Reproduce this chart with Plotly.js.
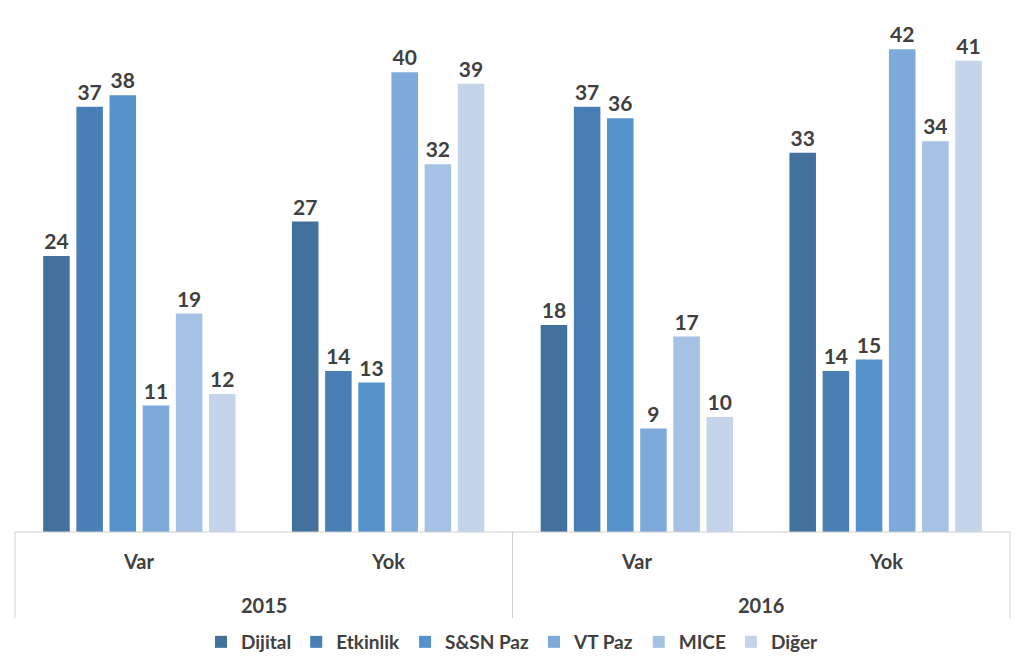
<!DOCTYPE html>
<html>
<head>
<meta charset="utf-8">
<script src="https://cdn.plot.ly/plotly-3.0.1.min.js"></script>
<style>html,body{margin:0;padding:0;background:#fff;}#chart{width:1024px;height:669px;}</style>
</head>
<body>
<div id="chart"></div>
<script>
const years = ["2015", "2015", "2016", "2016"];
const groups = ["Var", "Yok", "Var", "Yok"];
const yearLabels = ["2015", "2016"];
const seriesNames = ["Dijital", "Etkinlik", "S&SN Paz", "VT Paz", "MICE", "Diğer"];
const dijital = [24, 27, 18, 33];
const etkinlik = [37, 14, 37, 14];
const ssnPaz = [38, 13, 36, 15];
const vtPaz = [11, 40, 9, 42];
const mice = [19, 32, 17, 34];
const diger = [12, 39, 10, 41];
const colors = ["#41719c", "#4a7fb6", "#5693cd", "#7daadb", "#a5c1e4", "#c4d5eb"];
const values = [dijital, etkinlik, ssnPaz, vtPaz, mice, diger];

const font = "Lato, Open Sans, sans-serif";
const txtColor = "#404040";
const catKeys = years.map((y, i) => y + " " + groups[i]);

const traces = values.map((v, i) => ({
  type: "bar",
  name: seriesNames[i],
  x: catKeys,
  y: v,
  marker: {color: colors[i]},
  text: v.map(String),
  textposition: "outside",
  cliponaxis: false,
  textfont: {family: font, size: 21, color: txtColor, weight: "bold"},
  hoverinfo: "none"
}));

const H = 669, plotBottom = 532, plotTop = 17;
const toPaper = py => (plotBottom - py) / (plotBottom - plotTop);

const annotations = [];
groups.forEach((g, i) => annotations.push({
  xref: "paper", yref: "paper", x: (i + 0.5) / groups.length, y: toPaper(561),
  text: g, showarrow: false, xanchor: "center", yanchor: "middle",
  font: {family: font, size: 20, color: txtColor, weight: "bold"}
}));
yearLabels.forEach((yr, i) => annotations.push({
  xref: "paper", yref: "paper", x: (i + 0.5) / yearLabels.length, y: toPaper(605),
  text: yr, showarrow: false, xanchor: "center", yanchor: "middle",
  font: {family: font, size: 20, color: txtColor, weight: "bold"}
}));

const shapes = [];
[0, 0.5, 1].forEach(xp => shapes.push({
  type: "line", xref: "paper", yref: "paper", x0: xp, x1: xp, y0: 0, y1: toPaper(618),
  line: {color: "#d0d0d0", width: 1}
}));
shapes.push({
  type: "line", xref: "paper", yref: "paper", x0: 0, x1: 1, y0: 0, y1: 0,
  line: {color: "#d0d0d0", width: 1}
});

const layout = {
  width: 1024, height: 669,
  margin: {l: 15, r: 14, t: plotTop, b: H - plotBottom},
  paper_bgcolor: "#fff", plot_bgcolor: "#fff",
  barmode: "group",
  bargap: 0.2,
  bargroupgap: 0.2,
  showlegend: true,
  legend: {
    orientation: "h", x: 0.5, xanchor: "center",
    yref: "container", y: 27 / H, yanchor: "middle",
    font: {family: font, size: 19, color: txtColor, weight: "bold"},
    itemwidth: 30, traceorder: "normal"
  },
  xaxis: {
    type: "category", showticklabels: false, automargin: false,
    showline: false, ticks: "", showgrid: false, zeroline: false
  },
  yaxis: {
    range: [0, 44.8], visible: false, showgrid: false, zeroline: false, automargin: false
  },
  annotations: annotations,
  shapes: shapes
};

Plotly.newPlot("chart", traces, layout, {displayModeBar: false, staticPlot: true});
</script>
</body>
</html>
